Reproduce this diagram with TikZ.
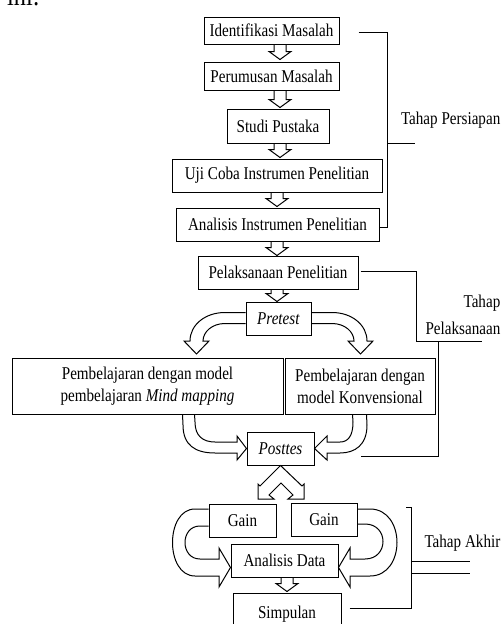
\documentclass[tikz,border=0pt]{standalone}
\usepackage{fontspec}
\setmainfont{Liberation Serif}[FakeStretch=0.84]
\usetikzlibrary{calc}
\begin{document}
\begin{tikzpicture}[x=1pt,y=-1pt,
  box/.style={draw,line width=1pt,inner sep=0pt,align=center,font=\fontsize{18}{22}\selectfont},
  lbl/.style={inner sep=0pt,font=\fontsize{18}{22}\selectfont},
  blk/.style={draw,line width=1pt,line join=miter},
  brk/.style={draw,line width=1pt},
  darr/.pic={\draw[blk] (-6,0) -- (-6,{#1-8}) -- (-11,{#1-8}) -- (0,#1) -- (11,{#1-8}) -- (6,{#1-8}) -- (6,0);}]
\useasboundingbox (0,0) rectangle (502,624);
\clip (0,0) rectangle (502,624);

\node[anchor=base west,inner sep=0pt,font=\fontsize{29}{30}\selectfont] (ini) at (7,5) {ini:};

% boxes
\node[box,minimum width=135pt,minimum height=27pt] (iden) at (271.5,30.5) {Identifikasi Masalah};
\node[box,minimum width=135pt,minimum height=28pt] (perum) at (271.5,76) {Perumusan Masalah};
\node[box,minimum width=102pt,minimum height=34pt] (studi) at (278,126) {Studi Pustaka};
\node[box,minimum width=210pt,minimum height=33pt] (uji) at (277,175.5) {Uji Coba Instrumen Penelitian};
\node[box,minimum width=203pt,minimum height=33pt] (anal) at (277.5,224.5) {Analisis Instrumen Penelitian};
\node[box,minimum width=160pt,minimum height=33pt] (pelak) at (278,272.5) {Pelaksanaan Penelitian};
\node[box,minimum width=65pt,minimum height=33pt] (pre) at (278.5,318.5) {\textit{Pretest}};
\node[box,minimum width=271pt,minimum height=56pt] (mind) at (147.5,386) {Pembelajaran dengan model\\pembelajaran \textit{Mind mapping}};
\node[box,minimum width=150pt,minimum height=56pt] (konv) at (360,386) {Pembelajaran dengan\\model Konvensional};
\node[box,minimum width=67pt,minimum height=33pt] (post) at (280.5,448.5) {\textit{Posttes}};
\node[box,minimum width=67pt,minimum height=33pt] (gainL) at (242.5,520.5) {Gain};
\node[box,minimum width=66pt,minimum height=33pt] (gainR) at (324,519.5) {Gain};
\node[box,minimum width=107pt,minimum height=33pt] (adata) at (284.5,560.5) {Analisis Data};
\node[box,minimum width=108pt,minimum height=42pt] (simp) at (287,614) {Simpulan};

% small straight block arrows
\pic at ($(iden.south)+(8.5,0)$) {darr=15};
\pic at ($(perum.south)+(8.5,0)$) {darr=17};
\pic at ($(studi.south)+(2,0)$) {darr=14};
\pic at ($(uji.south)+(0,0)$) {darr=14};
\pic at ($(anal.south)+(-0.5,0)$) {darr=14};
\pic at ($(pelak.south)+(-1,0)$) {darr=12};
\pic at ($(adata.south)+(2.5,0)$) {darr=14};

% pretest -> two boxes
\draw[blk] ($(pre.west)+(0,-6)$) -- (225,312.5) .. controls (205,312.5) and (190,325) .. (190,341)
  -- (184,341) -- (196.5,354) -- (209,341) -- (203,341)
  .. controls (203,332) and (212,323.5) .. (225,323.5) -- ($(pre.west)+(0,5)$);
\draw[blk] ($(pre.east)+(0,-6)$) -- (332,312.5) .. controls (352,312.5) and (367,325) .. (367,341)
  -- (373,341) -- (360.5,354) -- (348,341) -- (354,341)
  .. controls (354,332) and (345,323.5) .. (332,323.5) -- ($(pre.east)+(0,5)$);

% boxes -> posttes
\draw[blk] ($(mind.south west)+(171,0)$) -- (183,425) .. controls (183,445) and (195,453) .. (215,453)
  -- (237,453) -- (237,460) -- (post.west) -- (237,436) -- (237,442) -- (215,442)
  .. controls (203,442) and (195,436) .. (195,422) -- ($(mind.south west)+(183,0)$);
\draw[blk] ($(konv.south west)+(82,0)$) -- (367,425) .. controls (367,445) and (355,453) .. (340,453)
  -- (327,453) -- (327,460) -- (post.east) -- (327,436) -- (327,442) -- (340,442)
  .. controls (348,442) and (353,436) .. (353,422) -- ($(konv.south west)+(68,0)$);

% posttes -> gains
\draw[blk] (post.south) -- (260,486) -- (258,484) -- (258,499) -- (274,499) -- (269,495) -- (281,483)
  -- (293,495) -- (288,499) -- (304,499) -- (304,484) -- (302,486) -- cycle;

% gains -> analisis data
\draw[blk] ($(gainL.west)+(0,-11.5)$) -- (195,509) .. controls (165,509) and (165,576) .. (195,576)
  -- (219,576) -- (219,587) -- ($(adata.west)+(0,7)$) -- (219,548) -- (219,559) -- (200,559)
  .. controls (180,559) and (180,526) .. (200,526) -- ($(gainL.west)+(0,5.5)$);
\draw[blk] ($(gainR.east)+(0,-10.5)$) -- (370,509) .. controls (406,509) and (406,576) .. (370,576)
  -- (350,576) -- (350,587) -- ($(adata.east)+(0,7)$) -- (350,548) -- (350,559) -- (365,559)
  .. controls (389,559) and (389,524) .. (365,524) -- ($(gainR.east)+(0,4.5)$);

% brackets
\draw[brk] ($(iden.east)+(19,1.5)$) -- (387,32) |- ($(anal.east)+(0,2.5)$);
\coordinate (tpend) at (415,143);
\draw[brk] (387,143) -- (tpend);
\draw[brk] ($(pelak.east)+(2,-1.5)$) -- (416,271) |- (482,341);
\draw[brk] (438,341) |- ($(post.east)+(46,8)$);
\draw[brk] ($(simp.east)+(8,-6)$) -- (411,608) |- (406,507);
\draw[brk] (411,561) -- (470,561);
\draw[brk] (411,573) -- (470,573);

% labels
\node[lbl,anchor=base east] (tp) at (500.5,124) {Tahap Persiapan};
\node[lbl,anchor=base east] (tpl1) at (500.5,307) {Tahap};
\node[lbl,anchor=base east] (tpl2) at (500.5,334) {Pelaksanaan};
\node[lbl,anchor=base east] (ta) at (500.5,547) {Tahap Akhir};
\end{tikzpicture}
\end{document}
